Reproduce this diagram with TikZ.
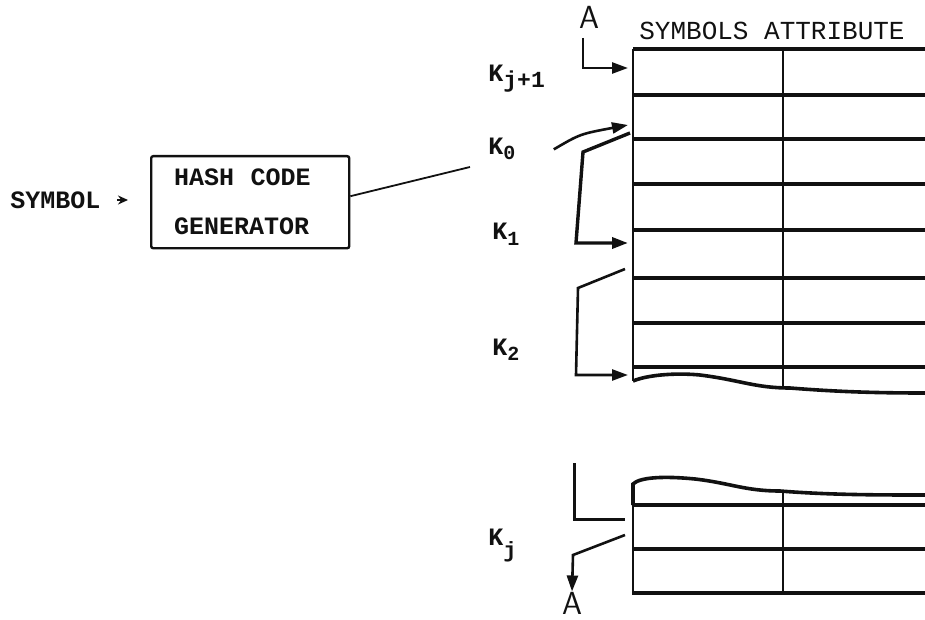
\documentclass[tikz,border=0pt]{standalone}
\usepackage{fontspec}
\setmonofont{Liberation Mono}
\usepackage{tikz}
\usetikzlibrary{arrows.meta,positioning,calc}
\usepackage{xcolor}
\definecolor{Ink}{HTML}{111111}

\tikzset{
  tw/.style={font=\ttfamily\bfseries\fontsize{12.5}{24.5}\selectfont,text=Ink,inner sep=0pt},
  hand/.style={font=\sffamily\fontsize{16}{16}\selectfont,text=Ink,inner sep=0pt},
  rowline/.style={Ink,line width=1.6pt},
  colline/.style={Ink,line width=0.8pt},
  brk/.style={Ink,line width=1.8pt},
  ptr/.style={Ink,line width=1.3pt,-{Triangle[length=8pt,width=5.5pt]}},
}

\begin{document}
\begin{tikzpicture}[x=0.5pt,y=-0.5pt,>=stealth]
\useasboundingbox (0,0) rectangle (925,620);
\node[tw,anchor=west] (symbol) at (10,200) {SYMBOL};
\node[tw,draw=Ink,line width=1.2pt,rounded corners=1pt,anchor=north west,
      minimum width=99pt,minimum height=46pt,text width=76pt,inner xsep=11.5pt,
      align=left] (hash) at (150,155) {HASH\hspace{4pt} CODE\\GENERATOR};
\draw[Ink,line width=0.8pt,-{Stealth[length=5pt,width=4.5pt]},shorten <=8pt,shorten >=11pt] (symbol) -- (symbol -| hash.west);
\coordinate (loose) at (470,167);
\draw[Ink,line width=0.9pt] ([yshift=3pt]hash.east) -- (loose);
% table
\node[tw,font=\ttfamily\fontsize{13}{13}\selectfont] (title) at (772,31) {SYMBOLS ATTRIBUTE};
\foreach \y in {49,95,139,184,230,278,323,367} {
  \draw[rowline] (633,\y) -- (925,\y);
}
\draw[colline] (633,49) -- (633,381);
\draw[colline] (783,49) -- (783,387);
\draw[brk] (633,381) .. controls (650,374) and (680,373) .. (700,375)
  .. controls (740,380) and (755,388) .. (790,388)
  .. controls (840,392) and (880,393) .. (925,393);
\draw[brk] (633,505) -- (633,484) .. controls (640,477) and (665,476) .. (695,479)
  .. controls (730,483) and (745,491) .. (780,491)
  .. controls (830,495) and (880,495) .. (925,495);
\foreach \y in {505,549,593} {
  \draw[rowline] (633,\y) -- (925,\y);
}
\draw[colline] (633,484) -- (633,595);
\draw[colline] (783,491) -- (783,593);
% keys
\node[tw,anchor=base west] (kjp) at (488,82) {K\raisebox{-3pt}{\fontsize{11.5}{11.5}\selectfont j+1}};
\node[tw,anchor=base west] (k0) at (488,155) {K\raisebox{-2.5pt}{\fontsize{10}{10}\selectfont 0}};
\node[tw,anchor=base west] (k1) at (492,240) {K\raisebox{-2.5pt}{\fontsize{10}{10}\selectfont 1}};
\node[tw,anchor=base west] (k2) at (492,355) {K\raisebox{-2.5pt}{\fontsize{10}{10}\selectfont 2}};
\node[tw,anchor=base west] (kj) at (488,545) {K\raisebox{-6pt}{\fontsize{11}{11}\selectfont j}};
\node[hand] (atop) at (589,17) {A};
\node[hand] (abot) at (572,603) {A};
\coordinate (tjp) at (628,68);
\coordinate (t0) at (628,125);
\coordinate (c0) at (630,133);
\coordinate (t1) at (628,243);
\coordinate (c1) at (625,269);
\coordinate (t2) at (628,375);
\coordinate (cj) at (625,519);
\coordinate (dj) at (625,535);
\draw[ptr] (583,38) |- (tjp);
\draw[ptr] ([xshift=19pt]k0.east) .. controls (580,134) .. (t0);
\draw[ptr,line width=1.7pt] (c0) -- (583,152) -- (576,243) -- (t1);
\draw[ptr] (c1) -- (578,288) -- (576,375) -- (t2);
\draw[Ink,line width=1.5pt] (574,463) |- (cj);
\draw[ptr] (dj) -- (573,555) -- (abot.north);
\end{tikzpicture}
\end{document}
